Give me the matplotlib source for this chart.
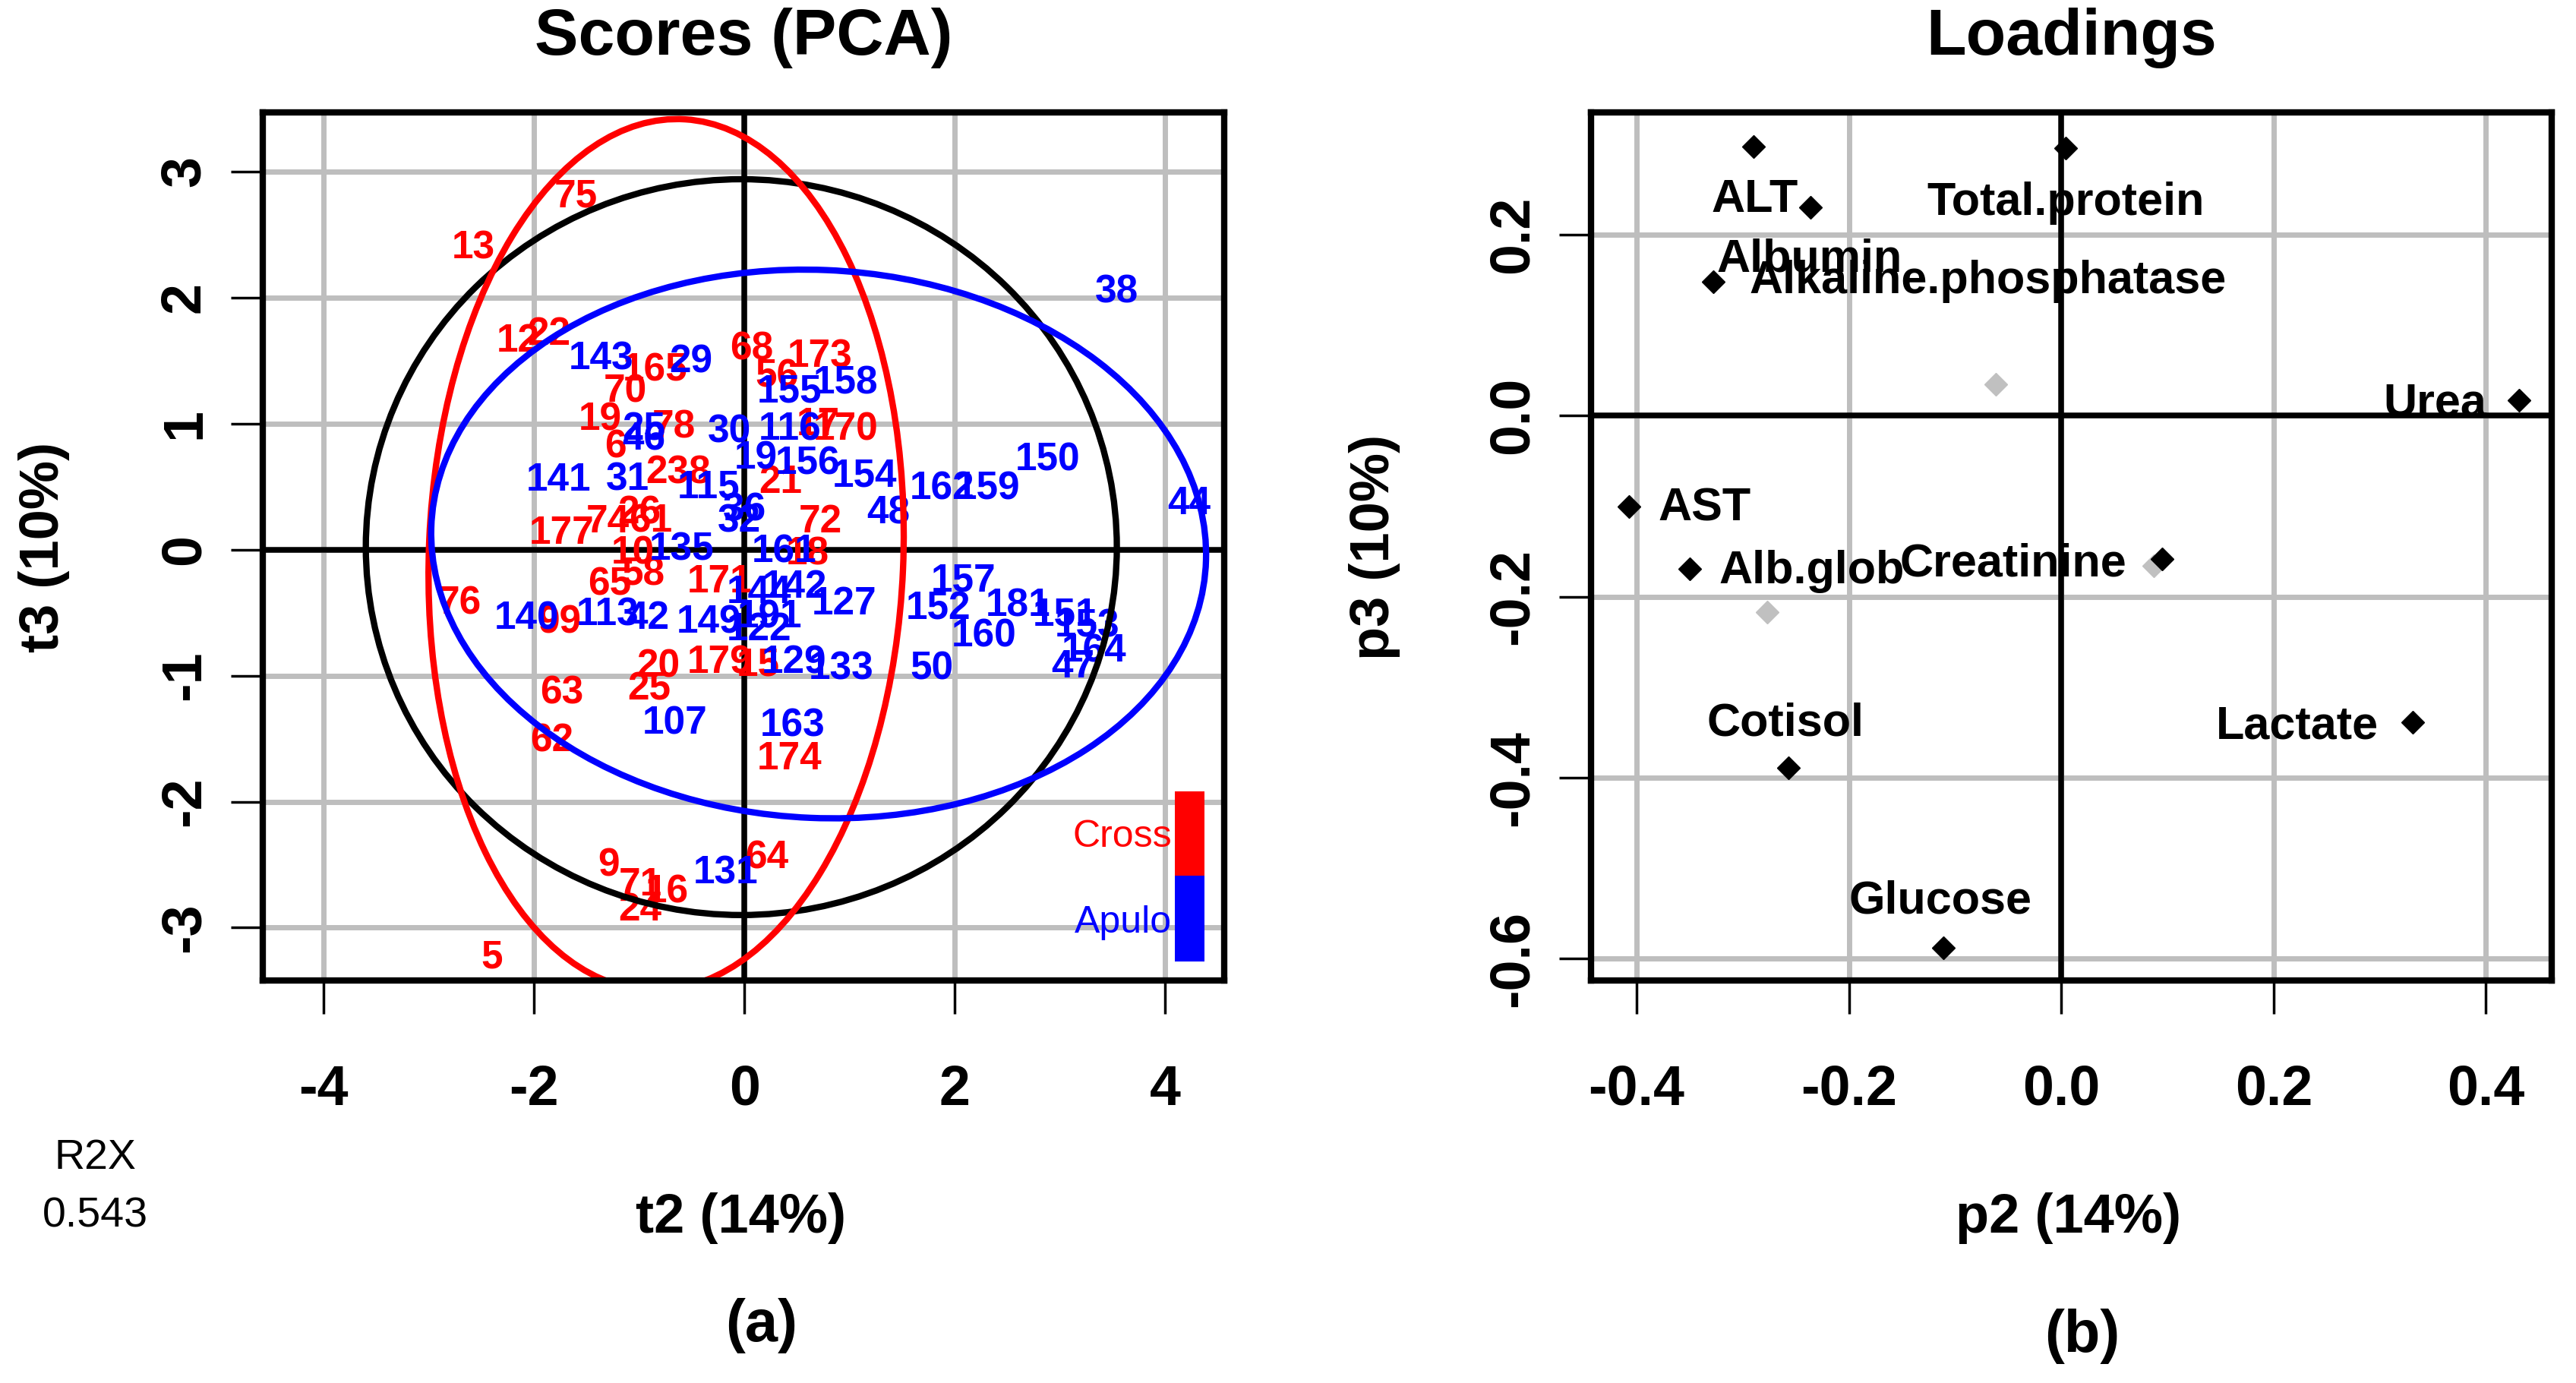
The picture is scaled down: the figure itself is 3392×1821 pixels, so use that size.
#PCA scores and loadings plot (two panels)
import matplotlib
matplotlib.use('Agg')
import matplotlib.pyplot as plt
from matplotlib.patches import Ellipse, Rectangle

plt.rcParams['font.family'] = ['Liberation Sans', 'DejaVu Sans']

#Scores data: sample labels and their (t2, t3) positions
cross_ids = ['13', '75', '12', '22', '165', '68', '173', '56', '70', '19', '78', '6',
             '17', '170', '238', '21', '72', '177', '74', '26', '61', '10', '18', '58',
             '65', '171', '76', '99', '20', '179', '15', '63', '25', '62', '174', '9',
             '71', '16', '24', '64', '5']
cross_t2 = [-2.58, -1.60, -2.15, -1.86, -0.85, 0.07, 0.72, 0.31, -1.13, -1.37, -0.67, -1.23,
            0.70, 0.96, -0.63, 0.34, 0.72, -1.74, -1.30, -1.00, -0.89, -1.06, 0.60, -0.96,
            -1.28, -0.24, -2.71, -1.76, -0.82, -0.24, 0.13, -1.74, -0.91, -1.83, 0.43, -1.29,
            -0.99, -0.74, -0.99, 0.21, -2.40]
cross_t3 = [2.39, 2.80, 1.65, 1.71, 1.42, 1.59, 1.53, 1.37, 1.25, 1.03, 0.97, 0.81,
            0.99, 0.95, 0.61, 0.53, 0.22, 0.13, 0.22, 0.29, 0.22, -0.03, -0.04, -0.20,
            -0.28, -0.26, -0.43, -0.58, -0.93, -0.90, -0.92, -1.14, -1.11, -1.52, -1.66, -2.51,
            -2.66, -2.72, -2.86, -2.45, -3.24]

apulo_ids = ['38', '143', '29', '155', '158', '25', '46', '30', '116', '19', '156', '154',
             '150', '162', '159', '48', '44', '141', '31', '115', '36', '32', '135', '161',
             '144', '142', '127', '140', '113', '42', '149', '191', '122', '129', '133', '157',
             '152', '181', '160', '151', '153', '164', '47', '50', '107', '163', '131']
apulo_t2 = [3.54, -1.36, -0.51, 0.43, 0.96, -0.96, -0.96, -0.14, 0.43, 0.11, 0.60, 1.14,
            2.88, 1.88, 2.31, 1.37, 4.23, -1.77, -1.11, -0.34, 0.00, -0.05, -0.60, 0.38,
            0.14, 0.48, 0.95, -2.07, -1.30, -0.92, -0.34, 0.24, 0.14, 0.47, 0.92, 2.08,
            1.84, 2.60, 2.28, 3.05, 3.26, 3.32, 3.12, 1.78, -0.66, 0.46, -0.18]
apulo_t3 = [2.04, 1.51, 1.49, 1.25, 1.32, 0.95, 0.87, 0.93, 0.95, 0.72, 0.68, 0.58,
            0.71, 0.48, 0.48, 0.29, 0.36, 0.55, 0.55, 0.49, 0.31, 0.22, 0.00, -0.02,
            -0.34, -0.30, -0.43, -0.55, -0.52, -0.55, -0.58, -0.54, -0.64, -0.90, -0.95, -0.25,
            -0.47, -0.45, -0.69, -0.52, -0.61, -0.81, -0.93, -0.95, -1.38, -1.40, -2.57]

#confidence ellipses: centre x, centre y, width, height, angle
ell_all = [-0.03, 0.02, 7.14, 5.84, 0]
ell_cross = [-0.745, -0.04, 4.51, 6.92, -3]
ell_apulo = [0.705, 0.045, 7.37, 4.35, -2]

score_xticks = [-4, -2, 0, 2, 4]
score_xlabels = ['-4', '-2', '0', '2', '4']
score_yticks = [-3, -2, -1, 0, 1, 2, 3]
score_ylabels = ['-3', '-2', '-1', '0', '1', '2', '3']

#Loadings data
load_x = [-0.290, 0.004, -0.236, -0.328, 0.431, -0.407, -0.350, 0.095, -0.257, 0.331, -0.111]
load_y = [0.297, 0.296, 0.230, 0.148, 0.017, -0.100, -0.169, -0.158, -0.389, -0.339, -0.588]
grey_x = [-0.062, 0.087, -0.277]
grey_y = [0.035, -0.166, -0.217]
var_names = ['ALT', 'Total.protein', 'Albumin', 'Alkaline.phosphatase', 'Urea', 'AST',
             'Alb.glob', 'Creatinine', 'Cotisol', 'Lactate', 'Glucose']
var_x = [-0.289, 0.004, -0.237, -0.069, 0.352, -0.336, -0.235, -0.045, -0.260, 0.222, -0.114]
var_y = [0.238, 0.235, 0.172, 0.148, 0.0125, -0.103, -0.172, -0.164, -0.340, -0.344, -0.537]

load_xticks = [-0.4, -0.2, 0.0, 0.2, 0.4]
load_xlabels = ['-0.4', '-0.2', '0.0', '0.2', '0.4']
load_yticks = [-0.6, -0.4, -0.2, 0.0, 0.2]
load_ylabels = ['-0.6', '-0.4', '-0.2', '0.0', '0.2']

RED = '#ff0000'
BLUE = '#0000ff'
GRID = '#bebebe'

fig = plt.figure(figsize=(33.92, 18.21), dpi=100)
ax1 = fig.add_axes([0.1020, 0.2910, 0.3732, 0.6277])
ax2 = fig.add_axes([0.6176, 0.2910, 0.3730, 0.6277])


def style_axes(ax, xt, xl, yt, yl):
    ax.set_xticks(xt)
    ax.set_xticklabels(xl, fontsize=53, fontweight='bold')
    ax.set_yticks(yt)
    ax.set_yticklabels(yl, fontsize=53, fontweight='bold', rotation=90, va='center')
    ax.tick_params(axis='x', length=32, width=2.5, pad=47)
    ax.tick_params(axis='y', length=30, width=2.5, pad=19)
    for s in ax.spines.values():
        s.set_linewidth(6)
        s.set_zorder(10)
    for v in xt:
        ax.axvline(v, color=GRID, lw=5, zorder=0.5)
    for v in yt:
        ax.axhline(v, color=GRID, lw=5, zorder=0.5)


#Scores panel
style_axes(ax1, score_xticks, score_xlabels, score_yticks, score_ylabels)
ax1.set_xlim(-4.58, 4.56)
ax1.set_ylim(-3.42, 3.47)
ax1.axhline(0, color='black', lw=5.4, zorder=1)
ax1.axvline(0, color='black', lw=5.4, zorder=1)

for name, x, y in zip(cross_ids, cross_t2, cross_t3):
    ax1.text(x, y, name, color=RED, fontsize=37, fontweight='bold',
             ha='center', va='center', zorder=2)
for name, x, y in zip(apulo_ids, apulo_t2, apulo_t3):
    ax1.text(x, y, name, color=BLUE, fontsize=37, fontweight='bold',
             ha='center', va='center', zorder=2)

for e, c in [(ell_all, 'black'), (ell_cross, RED), (ell_apulo, BLUE)]:
    ax1.add_patch(Ellipse((e[0], e[1]), e[2], e[3], angle=e[4], fill=False,
                          edgecolor=c, lw=6, zorder=3))

#group colour key
ax1.add_patch(Rectangle((4.09, -2.59), 0.28, 0.67, facecolor=RED, edgecolor='none', zorder=4))
ax1.add_patch(Rectangle((4.09, -3.27), 0.28, 0.68, facecolor=BLUE, edgecolor='none', zorder=4))
ax1.text(4.06, -2.28, 'Cross', color=RED, fontsize=36, ha='right', va='center', zorder=4)
ax1.text(4.06, -2.96, 'Apulo', color=BLUE, fontsize=36, ha='right', va='center', zorder=4)

#Loadings panel
style_axes(ax2, load_xticks, load_xlabels, load_yticks, load_ylabels)
ax2.set_xlim(-0.443, 0.462)
ax2.set_ylim(-0.624, 0.335)
ax2.axhline(0, color='black', lw=5.4, zorder=3)
ax2.axvline(0, color='black', lw=5.4, zorder=3)
ax2.plot(grey_x, grey_y, 'D', color='#c0c0c0', markersize=15, zorder=4)
ax2.plot(load_x, load_y, 'D', color='black', markersize=15, zorder=5)
for name, x, y in zip(var_names, var_x, var_y):
    ax2.text(x, y, name, color='black', fontsize=44, fontweight='bold',
             ha='center', va='center', zorder=2)

#titles, axis labels and captions
fig.text(0.2886, 0.9725, 'Scores (PCA)', fontsize=62, fontweight='bold', ha='center', va='center')
fig.text(0.8041, 0.9725, 'Loadings', fontsize=62, fontweight='bold', ha='center', va='center')
fig.text(0.2877, 0.1192, 't2 (14%)', fontsize=52, fontweight='bold', ha='center', va='center')
fig.text(0.8028, 0.1192, 'p2 (14%)', fontsize=52, fontweight='bold', ha='center', va='center')
fig.text(0.0171, 0.6041, 't3 (10%)', fontsize=52, fontweight='bold', ha='center', va='center',
         rotation=90)
fig.text(0.5336, 0.6041, 'p3 (10%)', fontsize=52, fontweight='bold', ha='center', va='center',
         rotation=90)
fig.text(0.0369, 0.1625, 'R2X', fontsize=40, ha='center', va='center')
fig.text(0.0369, 0.1208, '0.543', fontsize=40, ha='center', va='center')
fig.text(0.2957, 0.0417, '(a)', fontsize=56, fontweight='bold', ha='center', va='center')
fig.text(0.8084, 0.0335, '(b)', fontsize=56, fontweight='bold', ha='center', va='center')

fig.savefig('out.png', dpi=100)
